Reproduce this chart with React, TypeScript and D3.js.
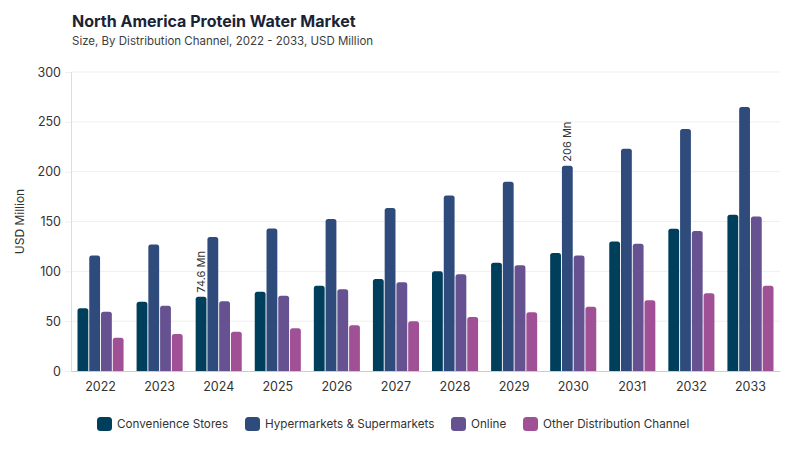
import React, { useEffect, useRef } from 'react';
import * as d3 from 'd3';

const years = ['2022', '2023', '2024', '2025', '2026', '2027', '2028', '2029', '2030', '2031', '2032', '2033'];
const seriesNames = ['Convenience Stores', 'Hypermarkets & Supermarkets', 'Online', 'Other Distribution Channel'];
const convenience = [63, 69.5, 74.6, 79.5, 85.5, 92.3, 100, 108.6, 118.4, 130, 142.7, 156.8];
const hypermarkets = [116, 127, 134.5, 143, 152.5, 163.5, 176.2, 190, 206, 223, 242.7, 265];
const online = [59.5, 65.5, 70, 75.5, 82, 89, 97, 106, 116, 127.7, 140.4, 155];
const other = [33.4, 37, 39.5, 43, 45.8, 49.8, 54.2, 59, 64.5, 71, 78, 85.5];
const colors = ['#003f5c', '#2f4b7c', '#665191', '#a05195'];
const yTicks = [0, 50, 100, 150, 200, 250, 300];
// annotations: [year, series index, label]
const notes: [string, number, string][] = [
  ['2024', 0, '74.6 Mn'],
  ['2030', 1, '206 Mn'],
];

const W = 800;
const H = 450;
const FONT = 'Inter, "DejaVu Sans", sans-serif';

const topRounded = (x: number, y: number, w: number, h: number, r: number) => {
  const rr = Math.min(r, h, w / 2);
  return `M${x},${y + h}V${y + rr}Q${x},${y} ${x + rr},${y}H${x + w - rr}Q${x + w},${y} ${x + w},${y + rr}V${y + h}Z`;
};

const App = () => {
  const ref = useRef<SVGSVGElement>(null);

  useEffect(() => {
    draw();
  });

  const draw = () => {
    const svg = d3.select(ref.current);
    svg.selectAll('*').remove();

    const left = 71;
    const right = 780;
    const top = 72;
    const bottom = 371;
    const allSeries = [convenience, hypermarkets, online, other];

    const x0 = d3.scaleBand().domain(years).range([left, right]).paddingInner(0.22).paddingOuter(0.11);
    const x1 = d3.scaleBand().domain(seriesNames).range([0, x0.bandwidth()]).paddingInner(0.08);
    const y = d3.scaleLinear().domain([0, 300]).range([bottom, top]);

    // title
    svg.append('text')
      .attr('x', 72).attr('y', 27)
      .attr('font-family', FONT).attr('font-size', 16).attr('font-weight', 700)
      .attr('fill', '#1c2236')
      .text('North America Protein Water Market');
    svg.append('text')
      .attr('x', 72).attr('y', 45)
      .attr('font-family', FONT).attr('font-size', 11.5)
      .attr('fill', '#3d3d3d')
      .text('Size, By Distribution Channel, 2022 - 2033, USD Million');

    // grid
    svg.append('g')
      .selectAll('line')
      .data(yTicks.filter((t) => t > 0))
      .enter()
      .append('line')
      .attr('x1', left).attr('x2', right)
      .attr('y1', (d) => y(d)).attr('y2', (d) => y(d))
      .attr('stroke', '#efefef').attr('stroke-width', 1);

    // y axis
    const yAxis = svg.append('g')
      .attr('transform', `translate(${left},0)`)
      .call(d3.axisLeft(y).tickValues(yTicks).tickSize(6).tickPadding(4));
    yAxis.select('.domain').attr('stroke', '#dddddd');
    yAxis.selectAll('.tick line').attr('stroke', '#efefef');
    yAxis.selectAll('text')
      .attr('font-family', FONT).attr('font-size', 12.5).attr('fill', '#333');

    svg.append('text')
      .attr('transform', `translate(24,${(top + bottom) / 2}) rotate(-90)`)
      .attr('text-anchor', 'middle')
      .attr('font-family', FONT).attr('font-size', 12).attr('fill', '#333')
      .text('USD Million');

    // bars
    const groups = svg.append('g')
      .selectAll('g')
      .data(years)
      .enter()
      .append('g')
      .attr('transform', (d) => `translate(${x0(d)},0)`);

    groups.selectAll('path')
      .data((d, i) => allSeries.map((s, k) => ({ name: seriesNames[k], value: s[i], k })))
      .enter()
      .append('path')
      .attr('d', (d) => topRounded(x1(d.name) || 0, y(d.value), x1.bandwidth(), bottom - y(d.value), 2.5))
      .attr('fill', (d) => colors[d.k]);

    // x axis
    const xAxis = svg.append('g')
      .attr('transform', `translate(0,${bottom})`)
      .call(d3.axisBottom(x0).tickSize(0).tickPadding(11));
    xAxis.select('.domain').attr('stroke', '#cccccc');
    xAxis.selectAll('text')
      .attr('font-family', FONT).attr('font-size', 12.5).attr('fill', '#333');

    // annotations
    notes.forEach(([yr, k, label]) => {
      const val = allSeries[k][years.indexOf(yr)];
      const cx = (x0(yr) || 0) + (x1(seriesNames[k]) || 0) + x1.bandwidth() / 2;
      svg.append('text')
        .attr('transform', `translate(${cx + 4},${y(val) - 4}) rotate(-90)`)
        .attr('font-family', FONT).attr('font-size', 11).attr('fill', '#333')
        .text(label);
    });

    // legend
    const legendX = [97, 245, 451, 523];
    const legend = svg.append('g')
      .selectAll('g')
      .data(seriesNames)
      .enter()
      .append('g')
      .attr('transform', (d, i) => `translate(${legendX[i]},417)`);
    legend.append('rect')
      .attr('width', 15).attr('height', 14).attr('rx', 3.5)
      .attr('fill', (d, i) => colors[i]);
    legend.append('text')
      .attr('x', 20).attr('y', 11)
      .attr('font-family', FONT).attr('font-size', 11.7).attr('fill', '#333')
      .text((d) => d);
  };

  return <svg ref={ref} width={W} height={H} style={{ display: 'block', position: 'absolute', left: 0, top: 0 }} />;
};

export default App;
